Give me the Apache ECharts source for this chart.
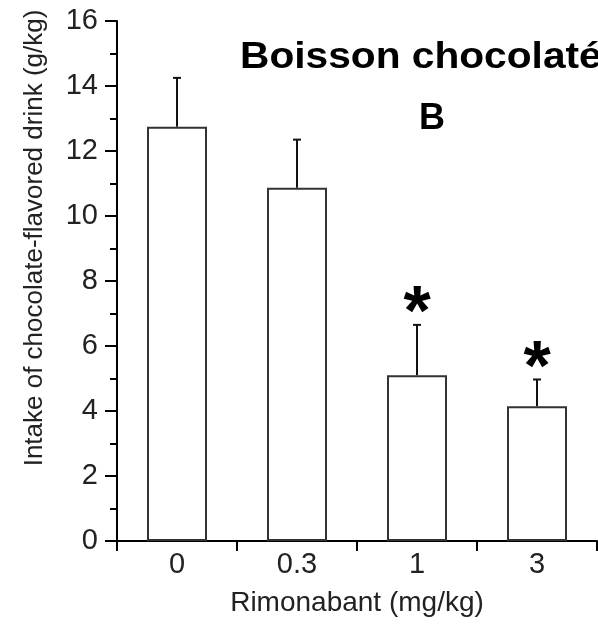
<!DOCTYPE html>
<html>
<head>
<meta charset="utf-8">
<style>html,body{margin:0;padding:0;background:#fff}#c{width:598px;height:624px}</style>
<script src="https://cdn.jsdelivr.net/npm/echarts@6/dist/echarts.min.js"></script>
</head>
<body>
<div id="c"></div>
<script>
var categories = ['0', '0.3', '1', '3'];
var intake = [12.75, 10.87, 5.1, 4.15];
var errorTop = [14.25, 12.35, 6.65, 4.97];
var significant = [false, false, true, true];
var yTicks = [0, 2, 4, 6, 8, 10, 12, 14, 16];
var titleText = 'Boisson chocolatée';
var panelLabel = 'B';
var yName = 'Intake of chocolate-flavored drink (g/kg)';
var xName = 'Rimonabant (mg/kg)';

var FONT = 'Liberation Sans, Arial, sans-serif';
var chart = echarts.init(document.getElementById('c'), null, {renderer: 'canvas'});
var errData = categories.map(function (c, i) { return [i, intake[i], errorTop[i], significant[i] ? 1 : 0]; });

chart.setOption({
  animation: false,
  backgroundColor: '#fff',
  title: [
    {text: panelLabel, left: 414, top: 96, textStyle: {fontFamily: FONT, fontSize: 36, fontWeight: 'bold', color: '#000'}}
  ],
  graphic: [
    {
      type: 'text', x: 35, y: 238, rotation: Math.PI / 2,
      style: {text: yName, font: '26px ' + FONT, fill: '#222', align: 'center', verticalAlign: 'middle'}
    },
    {
      type: 'text', x: 240, y: 58, scaleX: 1.13, scaleY: 1,
      style: {text: titleText, font: 'bold 36px ' + FONT, fill: '#000', align: 'left', verticalAlign: 'middle'}
    }
  ],
  grid: {left: 117, right: 1, top: 21, bottom: 83, containLabel: false},
  xAxis: {
    type: 'category', data: categories, boundaryGap: true,
    name: xName, nameLocation: 'middle', nameGap: 48,
    nameTextStyle: {fontFamily: FONT, fontSize: 28, color: '#222'},
    axisLine: {lineStyle: {color: '#000', width: 2}},
    axisTick: {show: true, length: 10, alignWithLabel: false, lineStyle: {color: '#000', width: 2}},
    axisLabel: {fontFamily: FONT, fontSize: 29, color: '#222', margin: 9}
  },
  yAxis: {
    type: 'value', min: 0, max: 16, interval: 2,
    axisLine: {show: true, lineStyle: {color: '#000', width: 2}},
    axisTick: {show: true, length: 12, lineStyle: {color: '#000', width: 2}},
    minorTick: {show: true, splitNumber: 2, length: 7, lineStyle: {color: '#000', width: 2}},
    splitLine: {show: false},
    axisLabel: {fontFamily: FONT, fontSize: 29, color: '#222', margin: 19,
      formatter: function (v) { return yTicks.indexOf(v) >= 0 ? String(v) : ''; }}
  },
  series: [
    {
      type: 'bar', data: intake, barWidth: 60,
      itemStyle: {color: '#fff', borderColor: '#333', borderWidth: 2}
    },
    {
      type: 'custom', data: errData, z: 1,
      renderItem: function (params, api) {
        var x = api.value(0);
        var base = api.coord([x, api.value(1)]);
        var top = api.coord([x, api.value(2)]);
        var children = [
          {type: 'line', shape: {x1: base[0], y1: base[1], x2: top[0], y2: top[1]}, style: {stroke: '#111', lineWidth: 2}},
          {type: 'line', shape: {x1: top[0] - 4, y1: top[1], x2: top[0] + 4, y2: top[1]}, style: {stroke: '#111', lineWidth: 2}}
        ];
        if (api.value(3) === 1) {
          children.push({type: 'text', x: top[0], y: top[1] - 9,
            style: {text: '*', font: 'bold 70px ' + FONT, fill: '#000', align: 'center', verticalAlign: 'middle'}});
        }
        return {type: 'group', children: children};
      }
    }
  ]
});
</script>
</body>
</html>
